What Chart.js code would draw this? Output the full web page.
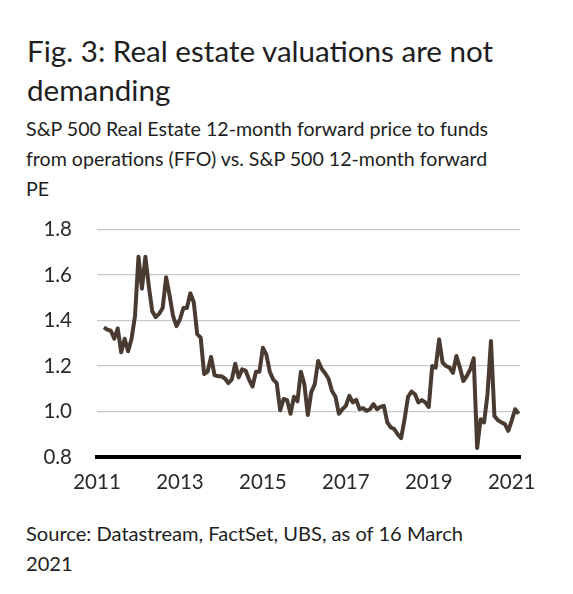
<!DOCTYPE html>
<html>
<head>
<meta charset="utf-8">
<script src="https://cdn.jsdelivr.net/npm/chart.js@4/dist/chart.umd.min.js"></script>
<style>
  html, body { margin: 0; padding: 0; background: #fff; }
  body { width: 573px; height: 594px; position: relative; overflow: hidden; font-family: Lato, "Open Sans", sans-serif; color: #1e1e1e; }
  .title { position: absolute; left: 27px; top: 31px; font-size: 29.6px; line-height: 39px; white-space: nowrap; }
  .sub { position: absolute; left: 26px; top: 114px; font-size: 19.6px; line-height: 30px; white-space: nowrap; }
  .source { position: absolute; left: 26px; top: 518px; font-size: 20.1px; line-height: 30px; white-space: nowrap; }
  #wrap { position: absolute; left: 0; top: 210px; width: 573px; height: 300px; }
</style>
</head>
<body>
<div class="title">Fig. 3: Real estate valuations are not<br>demanding</div>
<div class="sub">S&amp;P 500 Real Estate 12-month forward price to funds<br>from operations (FFO) vs. S&amp;P 500 12-month forward<br>PE</div>
<div id="wrap"><canvas id="chart" width="573" height="300"></canvas></div>
<div class="source">Source: Datastream, FactSet, UBS, as of 16 March<br>2021</div>

<script>
// monthly readings, first one is March 2011
const firstMonth = [2011, 3];
const ratio = [
  1.37, 1.36, 1.355, 1.32, 1.365, 1.26, 1.32, 1.265, 1.32, 1.42,
  1.68, 1.54, 1.68, 1.55, 1.44, 1.415, 1.43, 1.455, 1.59, 1.51,
  1.42, 1.375, 1.405, 1.455, 1.455, 1.52, 1.48, 1.34, 1.325, 1.165,
  1.175, 1.24, 1.16, 1.155, 1.155, 1.145, 1.125, 1.14, 1.21, 1.15,
  1.185, 1.18, 1.14, 1.11, 1.175, 1.175, 1.28, 1.25, 1.175, 1.14,
  1.125, 1.005, 1.055, 1.05, 0.99, 1.065, 1.045, 1.175, 1.12, 0.985,
  1.085, 1.12, 1.222, 1.188, 1.168, 1.144, 1.09, 1.065, 0.99, 1.01,
  1.025, 1.069, 1.04, 1.051, 1.01, 1.015, 1.003, 1.01, 1.032, 1.01,
  1.02, 1.025, 0.952, 0.93, 0.923, 0.9, 0.883, 0.966, 1.064, 1.088,
  1.076, 1.04, 1.05, 1.04, 1.02, 1.2, 1.193, 1.317, 1.215, 1.2,
  1.193, 1.17, 1.244, 1.193, 1.134, 1.156, 1.185, 1.234, 0.84, 0.966,
  0.952, 1.076, 1.31, 0.98, 0.962, 0.952, 0.945, 0.915, 0.96, 1.01,
  0.99
];
const yearTicks = [2011, 2013, 2015, 2017, 2019, 2021];
const yTicks = [0.8, 1.0, 1.2, 1.4, 1.6, 1.8];

const points = ratio.map((v, i) => ({
  x: firstMonth[0] + (firstMonth[1] - 1 + i) / 12,
  y: v
}));

const tickFont = { family: "Lato, 'Open Sans', sans-serif", size: 20.5 };

new Chart(document.getElementById('chart'), {
  type: 'line',
  data: {
    datasets: [{
      data: points,
      borderColor: '#4a3b32',
      borderWidth: 4,
      pointRadius: 0,
      tension: 0,
      borderJoinStyle: 'round'
    }]
  },
  options: {
    responsive: false,
    animation: false,
    events: [],
    layout: { padding: { top: 19.5, right: 53, left: 0, bottom: 0 } },
    plugins: { legend: { display: false }, tooltip: { enabled: false } },
    scales: {
      x: {
        type: 'linear',
        min: 2011,
        max: 2021.2,
        afterBuildTicks: s => { s.ticks = yearTicks.map(v => ({ value: v })); },
        ticks: { font: tickFont, color: '#2a2a2a', padding: 13, maxRotation: 0, callback: v => String(v) },
        grid: { display: false, drawTicks: false },
        border: { display: true, color: '#000', width: 4 },
        afterFit: s => { s.height = 53; }
      },
      y: {
        min: 0.8,
        max: 1.8,
        afterBuildTicks: s => { s.ticks = yTicks.map(v => ({ value: v })); },
        ticks: { font: tickFont, color: '#2a2a2a', padding: 25, callback: v => v.toFixed(1) },
        grid: {
          drawTicks: false,
          color: ctx => ctx.tick && ctx.tick.value <= 0.81 ? 'rgba(0,0,0,0)' : '#c9c9c9',
          lineWidth: 1.2
        },
        border: { display: false },
        // tick padding is meant sideways only, drop the extra it adds above and below
        afterFit: s => { s.width = 97; s.paddingTop = 0; s.paddingBottom = 0; }
      }
    }
  }
});
</script>
</body>
</html>
